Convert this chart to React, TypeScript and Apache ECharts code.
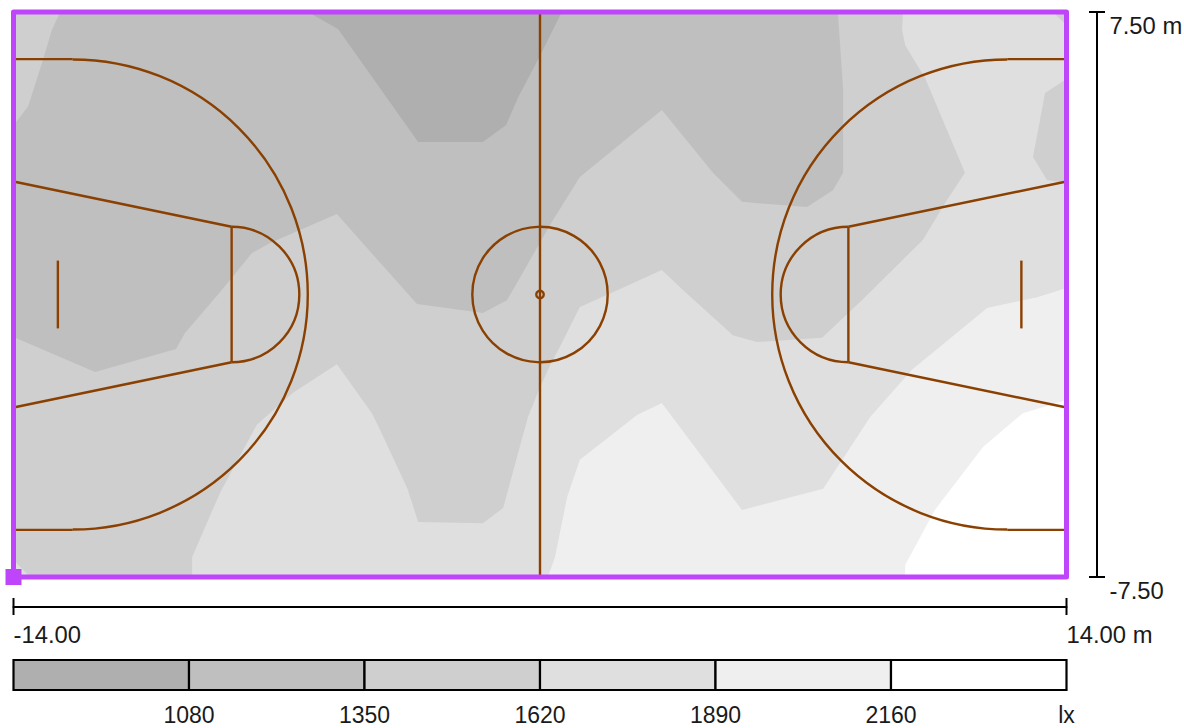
import React, { useEffect, useRef } from "react";
import * as echarts from "echarts";

// Illuminance bands in metres, painted from lightest to darkest
const band2160: number[][] = [[9.71,-7.5],[9.71,-7.18],[10.5,-5.72],[11.78,-4.05],[12.84,-3.15],[14,-2.8],[14,7.5],[-14,7.5],[-14,-7.5]];
const band1890: number[][] = [[0.21,-7.5],[0.4,-6.97],[0.72,-5.38],[1.06,-4.39],[2.58,-3.2],[3.24,-2.88],[5.37,-5.72],[7.53,-5.16],[8.78,-3.25],[9.89,-2],[11.89,-0.36],[13.22,-0.07],[14,0.17],[14,7.5],[-14,7.5],[-14,-7.5]];
const band1620: number[][] = [[9.65,7.5],[9.63,7.02],[9.71,6.62],[10.24,5.75],[11.3,3.23],[10.77,2.43],[10.18,1.45],[8.56,-0.15],[7.5,-1.15],[5.77,-1.26],[5.13,-1.08],[3.8,0.12],[3.24,0.65],[2.07,0.12],[1.06,-0.33],[0.53,-1.39],[0.27,-1.87],[0,-2.46],[-0.32,-3.25],[-0.61,-4.31],[-0.98,-5.67],[-1.52,-6.07],[-3.24,-6.04],[-3.51,-5.19],[-4.25,-3.6],[-4.47,-3.15],[-5.4,-1.85],[-6.57,-2.61],[-7.53,-3.46],[-8.51,-5.27],[-9.25,-6.97],[-9.25,-7.5],[-13.56,-7.5],[-14,-7.05],[-14,7.5]];
const patch1620Side: number[][] = [[14,5.72],[13.43,5.35],[13.11,3.65],[13.48,3.04],[14,2.96]];
const patch1620Corner: number[][] = [[13.64,7.5],[14,7.15],[14,7.5]];
const band1350: number[][] = [[-12.76,7.5],[-12.98,7.02],[-13.24,6.15],[-13.61,5],[-13.93,4.58],[-14,4.5],[-14,-1.13],[-11.83,-2.06],[-9.68,-1.45],[-9.44,-1.02],[-8.46,0.12],[-7.66,1.1],[-7.18,1.37],[-5.4,2.14],[-4.25,0.84],[-3.27,-0.25],[-1.52,-0.49],[-0.88,-0.15],[-0.72,0.12],[0.27,1.85],[1.06,3.12],[3.24,4.9],[4.6,3.23],[5.37,2.46],[7.1,2.32],[7.79,2.77],[8.06,3.23],[8.06,5.43],[7.92,7.5]];
const band1080: number[][] = [[-6.17,7.5],[-5.37,7.05],[-3.24,4.05],[-1.52,4.05],[-0.9,4.5],[-0.58,5.24],[-0.03,6.28],[0.58,7.5]];

// Court markings in metres
const courtSegments: number[][] = [
  [0,-7.5,0,7.5],
  [-14,6.25,-12.425,6.25],[-14,-6.25,-12.425,-6.25],[14,6.25,12.425,6.25],[14,-6.25,12.425,-6.25],
  [-14,3,-8.2,1.8],[-14,-3,-8.2,-1.8],[14,3,8.2,1.8],[14,-3,8.2,-1.8],
  [-8.2,-1.8,-8.2,1.8],[8.2,-1.8,8.2,1.8],
  [-12.82,-0.9,-12.82,0.9],[12.8,-0.9,12.8,0.9],
];
const courtArcs: number[][] = [
  [-12.425,0,6.25,-90,90],[12.425,0,6.25,90,270],
  [-8.2,0,1.8,-90,90],[8.2,0,1.8,90,270],
  [0,0,1.8,0,360],[0,0,0.1,0,360],
];
const frameCorners: number[][] = [[-14,-7.5],[14,-7.5],[14,7.5],[-14,7.5]];
const originMarker: number[][] = [[-14,-7.5]];

// Legend
const legendLow = [810,1080,1350,1620,1890,2160];
const legendHigh = [1080,1350,1620,1890,2160,2430];
const legendColors = ["#afafaf","#bfbfbf","#cfcfcf","#dfdfdf","#efefef","#ffffff"];

const xEnds = [-14,14];
const yEnds = [-7.5,7.5];
const xLabels: Record<string,string> = { "-14": "-14.00", "14": "14.00 m" };
const yLabels: Record<string,string> = { "-7.5": "-7.50", "7.5": "7.50 m" };

const FONT = "'Liberation Sans', Arial, sans-serif";
const COURT = "#8a4000";
const PURPLE = "#bf45fb";
const INK = "#1a1a1a";

function bandSeries(points: number[][], fill: string) {
  return {
    type: "custom", coordinateSystem: "cartesian2d", xAxisIndex: 0, yAxisIndex: 0, silent: true,
    data: points, encode: { x: 0, y: 1 },
    renderItem: (p: any, api: any) => {
      if (p.dataIndex !== 0) return null;
      return { type: "polygon", shape: { points: points.map((q) => api.coord(q)) }, style: { fill, stroke: "none" } };
    },
  };
}

export default function App() {
  const ref = useRef<HTMLDivElement>(null);
  useEffect(() => {
    const chart = echarts.init(ref.current!, undefined, { renderer: "svg" });
    chart.setOption({
      animation: false,
      backgroundColor: "#ffffff",
      grid: [
        { left: 13.5, top: 12, width: 1053, height: 565, outerBoundsMode: "none" },
        { left: 13.5, top: 660, width: 1053, height: 30, outerBoundsMode: "none" },
      ],
      xAxis: [
        {
          type: "value", gridIndex: 0, min: -14, max: 14, position: "bottom", offset: 30,
          splitLine: { show: false }, axisTick: { show: false },
          axisLine: { show: true, onZero: false, lineStyle: { color: "#000", width: 2 } },
          axisLabel: {
            show: true, customValues: xEnds, align: "left", margin: 15, fontFamily: FONT, fontSize: 23.8, color: INK,
            formatter: (v: number) => xLabels[String(v)] ?? "",
          },
        },
        {
          type: "value", gridIndex: 1, min: 810, max: 2430, interval: 270, position: "bottom",
          splitLine: { show: false }, axisLine: { show: false }, axisTick: { show: false },
          axisLabel: {
            show: true, margin: 15.5, lineHeight: 18, fontFamily: FONT, fontSize: 23, color: INK, showMinLabel: true, showMaxLabel: true,
            formatter: (v: number) => (v === 810 ? "" : v === 2430 ? "lx" : String(v)),
          },
        },
      ],
      yAxis: [
        {
          type: "value", gridIndex: 0, min: -7.5, max: 7.5, position: "right", offset: 30,
          splitLine: { show: false }, axisTick: { show: false },
          axisLine: { show: true, onZero: false, lineStyle: { color: "#000", width: 2 } },
          axisLabel: {
            show: true, customValues: yEnds, margin: 13, verticalAlign: "top", padding: [1,0,0,0], fontFamily: FONT, fontSize: 23.8, color: INK,
            formatter: (v: number) => yLabels[String(v)] ?? "",
          },
        },
        { type: "value", gridIndex: 1, min: 0, max: 1, show: false },
      ],
      series: [
        bandSeries(band2160, legendColors[4]),
        bandSeries(band1890, legendColors[3]),
        bandSeries(band1620, legendColors[2]),
        bandSeries(patch1620Side, legendColors[2]),
        bandSeries(patch1620Corner, legendColors[2]),
        bandSeries(band1350, legendColors[1]),
        bandSeries(band1080, legendColors[0]),
        {
          type: "custom", coordinateSystem: "cartesian2d", xAxisIndex: 0, yAxisIndex: 0, silent: true,
          data: courtSegments, encode: { x: 0, y: 1 },
          renderItem: (_p: any, api: any) => {
            const a = api.coord([api.value(0), api.value(1)]);
            const b = api.coord([api.value(2), api.value(3)]);
            return { type: "line", shape: { x1: a[0], y1: a[1], x2: b[0], y2: b[1] }, style: { stroke: COURT, lineWidth: 2.4, fill: "none" } };
          },
        },
        {
          type: "custom", coordinateSystem: "cartesian2d", xAxisIndex: 0, yAxisIndex: 0, silent: true,
          data: courtArcs, encode: { x: 0, y: 1 },
          renderItem: (_p: any, api: any) => {
            const c = api.coord([api.value(0), api.value(1)]);
            const r = api.size([api.value(2), 0])[0];
            const s = api.value(3), e = api.value(4);
            if (e - s >= 360) {
              return { type: "circle", shape: { cx: c[0], cy: c[1], r }, style: { stroke: COURT, lineWidth: 2.4, fill: "none" } };
            }
            return {
              type: "arc",
              shape: { cx: c[0], cy: c[1], r, startAngle: (s * Math.PI) / 180, endAngle: (e * Math.PI) / 180, clockwise: true },
              style: { stroke: COURT, lineWidth: 2.4, fill: "none" },
            };
          },
        },
        {
          type: "custom", coordinateSystem: "cartesian2d", xAxisIndex: 0, yAxisIndex: 0, silent: true,
          data: frameCorners, encode: { x: 0, y: 1 },
          renderItem: (p: any, api: any) => {
            if (p.dataIndex !== 0) return null;
            return {
              type: "polygon", shape: { points: frameCorners.map((q) => api.coord(q)) },
              style: { fill: "none", stroke: PURPLE, lineWidth: 5, lineJoin: "round" },
            };
          },
        },
        {
          type: "scatter", xAxisIndex: 0, yAxisIndex: 0, silent: true, data: originMarker,
          symbol: "rect", symbolSize: 16, itemStyle: { color: PURPLE, opacity: 1 }, clip: false, z: 5,
        },
        {
          // end ticks of the horizontal scale bar, centred on its line
          type: "custom", coordinateSystem: "cartesian2d", xAxisIndex: 0, yAxisIndex: 0, silent: true,
          data: xEnds.map((v) => [v, -7.5]), encode: { x: 0, y: 1 },
          renderItem: (_p: any, api: any) => {
            const c = api.coord([api.value(0), api.value(1)]);
            return { type: "line", shape: { x1: c[0], y1: c[1] + 21, x2: c[0], y2: c[1] + 38 }, style: { stroke: "#000", lineWidth: 2 } };
          },
        },
        {
          // end ticks of the vertical scale bar, centred on its line
          type: "custom", coordinateSystem: "cartesian2d", xAxisIndex: 0, yAxisIndex: 0, silent: true,
          data: yEnds.map((v) => [14, v]), encode: { x: 0, y: 1 },
          renderItem: (_p: any, api: any) => {
            const c = api.coord([api.value(0), api.value(1)]);
            return { type: "line", shape: { x1: c[0] + 22.5, y1: c[1], x2: c[0] + 38.5, y2: c[1] }, style: { stroke: "#000", lineWidth: 2 } };
          },
        },
        {
          type: "custom", coordinateSystem: "cartesian2d", xAxisIndex: 1, yAxisIndex: 1, silent: true,
          data: legendLow.map((v, i) => [v, legendHigh[i]]), encode: { x: [0, 1] },
          renderItem: (p: any, api: any) => {
            const a = api.coord([api.value(0), 1]);
            const b = api.coord([api.value(1), 0]);
            return {
              type: "rect", shape: { x: a[0], y: a[1], width: b[0] - a[0], height: b[1] - a[1] },
              style: { fill: legendColors[p.dataIndex], stroke: "#000", lineWidth: 2.2 },
            };
          },
        },
      ],
    });
    return () => chart.dispose();
  }, []);
  return <div ref={ref} style={{ position: "fixed", left: 0, top: 0, width: 1184, height: 728 }} />;
}
